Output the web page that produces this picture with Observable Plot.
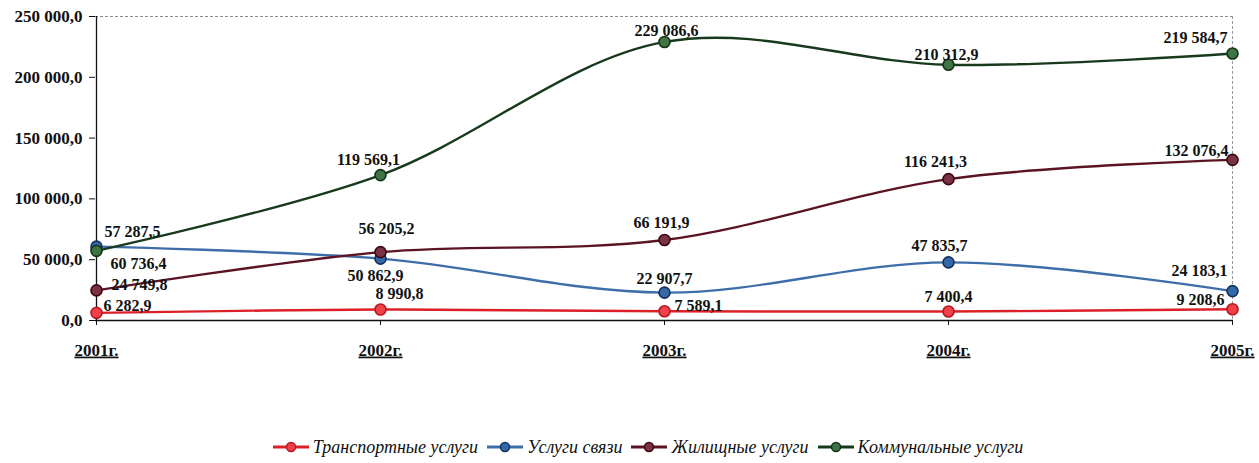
<!DOCTYPE html>
<html>
<head>
<meta charset="utf-8">
<script src="https://cdn.jsdelivr.net/npm/d3@7"></script>
<script src="https://cdn.jsdelivr.net/npm/@observablehq/plot@0.6"></script>
<style>
  html, body { margin: 0; padding: 0; background: #fff; }
  #chart svg { font-family: "Liberation Serif", "DejaVu Serif", serif !important; }
  #chart svg [aria-label="x-axis tick label"] text { text-decoration: underline; }
  #legend { height: 36px; display: flex; justify-content: center; align-items: center; gap: 8px;
            font-family: "Liberation Serif", "DejaVu Serif", serif; font-style: italic; font-size: 18px; color: #111; padding-left: 36px; }
  #legend .item { display: flex; align-items: center; gap: 3px; }
</style>
</head>
<body>
<div id="chart"></div>
<div id="legend"></div>
<script>
// ---- data ----
const years = ["2001г.", "2002г.", "2003г.", "2004г.", "2005г."];
const seriesNames = ["Транспортные услуги", "Услуги связи", "Жилищные услуги", "Коммунальные услуги"];
const transport = [6282.9, 8990.8, 7589.1, 7400.4, 9208.6];
const communication = [60736.4, 50862.9, 22907.7, 47835.7, 24183.1];
const housing = [24749.8, 56205.2, 66191.9, 116241.3, 132076.4];
const communal = [57287.5, 119569.1, 229086.6, 210312.9, 219584.7];
const yTicks = [0, 50000, 100000, 150000, 200000, 250000];

// ---- styles (not data) ----
const styles = {
  "Транспортные услуги": {line: "#dc2028", fill: "#f0404a", stroke: "#b81820"},
  "Услуги связи": {line: "#3d6ea8", fill: "#3568a8", stroke: "#16305e"},
  "Жилищные услуги": {line: "#5a1424", fill: "#7a3344", stroke: "#3a0812"},
  "Коммунальные услуги": {line: "#173a1c", fill: "#3f7447", stroke: "#163318"}
};
// label placement per series, per year: [dx, dy, anchor]
const placement = {
  "Транспортные услуги": [[7,-7,"start"],[-5,-16,"start"],[10,-5,"start"],[0,-15,"middle"],[-8,-9,"end"]],
  "Услуги связи": [[14,17,"start"],[-5,17,"middle"],[0,-14,"middle"],[-9,-16,"middle"],[-5,-20,"end"]],
  "Жилищные услуги": [[15,-6,"start"],[6,-23,"middle"],[-3,-17,"middle"],[-13,-17,"middle"],[-4,-9,"end"]],
  "Коммунальные услуги": [[8,-19,"start"],[-12,-15,"middle"],[2,-11,"middle"],[-2,-10,"middle"],[-5,-16,"end"]]
};

const valuesBySeries = [transport, communication, housing, communal];
const rows = [];
seriesNames.forEach((s, i) => years.forEach((yr, j) => rows.push({series: s, year: yr, value: valuesBySeries[i][j], idx: j})));

const loc = d3.formatLocale({decimal: ",", thousands: "\u00a0", grouping: [3], currency: ["", ""]});
const fmt = loc.format(",.1f");
const fmtLabel = v => fmt(v).replace(/\u00a0/g, " ");

const marks = [
  Plot.ruleY([250000], {stroke: "#8a8a8a", strokeWidth: 1, strokeDasharray: "3,2"}),
  Plot.ruleX([years[4]], {stroke: "#9a9a9a", strokeWidth: 1, strokeDasharray: "3,2"}),
  Plot.axisY({ticks: yTicks, tickFormat: fmt, tickSize: 6, tickPadding: 7, fontSize: 17, fontWeight: "bold", label: null, stroke: "#111"}),
  Plot.axisX({tickSize: 5, tickPadding: 18, fontSize: 17, fontWeight: "bold", label: null, stroke: "#111"}),
  Plot.ruleX([years[0]], {stroke: "#111", strokeWidth: 1.3}),
  Plot.ruleY([0], {stroke: "#111", strokeWidth: 1.3})
];

seriesNames.forEach(s => {
  const data = rows.filter(r => r.series === s);
  const st = styles[s];
  marks.push(Plot.line(data, {x: "year", y: "value", stroke: st.line, strokeWidth: 2.4, curve: "catmull-rom"}));
  marks.push(Plot.dot(data, {x: "year", y: "value", r: 5.5, fill: st.fill, stroke: st.stroke, strokeWidth: 1.6}));
});
seriesNames.forEach(s => {
  rows.filter(r => r.series === s).forEach(d => {
    const [dx, dy, anchor] = placement[s][d.idx];
    marks.push(Plot.text([d], {x: "year", y: "value", text: r => fmtLabel(r.value), dx, dy, textAnchor: anchor,
      fontSize: 16, fontWeight: "bold", fill: "#111"}));
  });
});

const chart = Plot.plot({
  width: 1259,
  height: 429,
  marginLeft: 95,
  marginRight: 26,
  marginTop: 16,
  marginBottom: 109,
  style: {color: "#111", background: "#fff"},
  x: {type: "point", domain: years, padding: 0},
  y: {domain: [0, 250000]},
  marks
});
document.getElementById("chart").appendChild(chart);

// legend
const legend = document.getElementById("legend");
seriesNames.forEach(s => {
  const st = styles[s];
  const item = document.createElement("div");
  item.className = "item";
  item.innerHTML = `<svg width="38" height="14"><line x1="1" x2="37" y1="7" y2="7" stroke="${st.line}" stroke-width="3"/><circle cx="19" cy="7" r="4.5" fill="${st.fill}" stroke="${st.stroke}" stroke-width="1.5"/></svg><span>${s}</span>`;
  legend.appendChild(item);
});
</script>
</body>
</html>
